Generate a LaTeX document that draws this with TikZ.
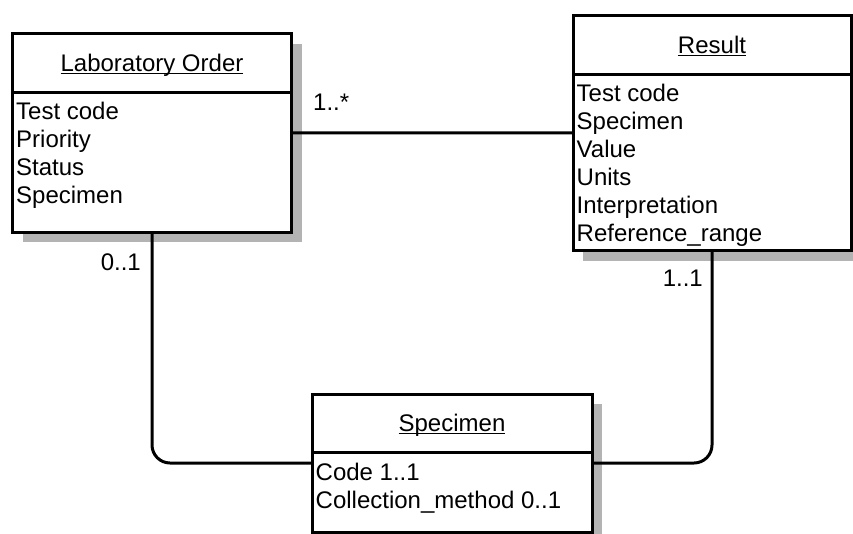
\documentclass[tikz,border=0pt]{standalone}
\usepackage{fontspec}
\setmainfont{Liberation Sans}
\usepackage{tikz}
\usetikzlibrary{shadows}
\definecolor{shadowgray}{RGB}{179,179,179}
\newcommand{\umlfont}{\fontsize{24}{28}\selectfont}

\begin{document}
\begin{tikzpicture}[
    x=1pt,y=-1pt,
    classbox/.style={draw,black,line width=3pt,fill=white,outer sep=0pt,inner sep=0pt,
      drop shadow={shadow xshift=10pt,shadow yshift=-10pt,fill=shadowgray,opacity=1}},
    classname/.style={font=\umlfont,inner sep=0pt,text height=16.8pt,text depth=0pt},
    attrs/.style={font=\umlfont,align=left,inner sep=0pt,anchor=north west},
    mult/.style={font=\umlfont,inner sep=0pt},
    assoc/.style={black,line width=3pt,rounded corners=18pt}
    ]
    \useasboundingbox (0,0) rectangle (853,533);
    % classes
    \node[classbox,minimum width=279pt,minimum height=198.5pt,anchor=north west] (lab) at (12.5,33.5) {};
    \node[classbox,minimum width=278pt,minimum height=235pt,anchor=north west] (res) at (573,15.5) {};
    \node[classbox,minimum width=280pt,minimum height=138pt,anchor=north west] (spec) at (312,394) {};
    \draw[line width=3pt] ([yshift=-59pt]lab.north west) -- ([yshift=-59pt]lab.north east);
    \draw[line width=3pt] ([yshift=-59pt]res.north west) -- ([yshift=-59pt]res.north east);
    \draw[line width=3pt] ([yshift=-58.5pt]spec.north west) -- ([yshift=-58.5pt]spec.north east);
    \node[classname] (lab-name) at ([yshift=-29.5pt]lab.north) {\underline{\smash{Laboratory Order}}};
    \node[classname] (res-name) at ([yshift=-29.5pt]res.north) {\underline{\smash{Result}}};
    \node[classname] (spec-name) at ([yshift=-29.3pt]spec.north) {\underline{\smash{Specimen}}};
    \node[attrs] (lab-attrs) at ([xshift=3.5pt,yshift=-68.6pt]lab.north west) {Test code\\Priority\\Status\\Specimen};
    \node[attrs] (res-attrs) at ([xshift=3.5pt,yshift=-68.6pt]res.north west) {Test code\\Specimen\\Value\\Units\\Interpretation\\Reference\_range};
    \node[attrs] (spec-attrs) at ([xshift=3.5pt,yshift=-68.6pt]spec.north west) {Code 1..1\\Collection\_method 0..1};
    % associations
    \draw[assoc] (lab) -- (res);
    \draw[assoc] (lab.south) |- (spec.west);
    \draw[assoc] (res.south) |- (spec.east);
    \node[mult,fill=white,inner xsep=8pt,inner ysep=6pt,anchor=base west] (lab-res-mult) at ([xshift=13.5pt,yshift=22pt]lab.east) {1..*};
    \node[mult,anchor=base east] (lab-spec-mult) at ([xshift=-11pt,yshift=-38pt]lab.south) {0..1};
    \node[mult,anchor=base east] (res-spec-mult) at ([xshift=-9pt,yshift=-36.2pt]res.south) {1..1};
  \end{tikzpicture}
\end{document}
